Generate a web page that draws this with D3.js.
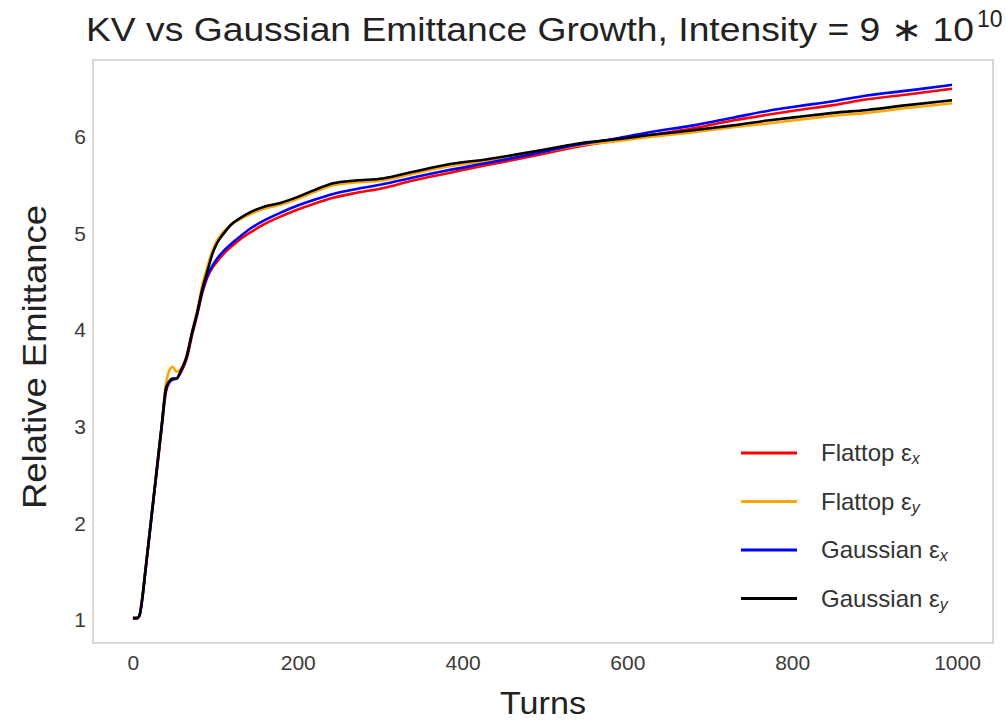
<!DOCTYPE html>
<html>
<head>
<meta charset="utf-8">
<script src="https://cdn.jsdelivr.net/npm/d3@7"></script>
<style>
  body { margin: 0; background: #fff; }
  svg text { font-family: "Liberation Sans", Arial, sans-serif; }
</style>
</head>
<body>
<div id="chart"></div>
<script>
(function () {
  'use strict';

  // turn numbers shared by every series
  const turns = [0, 5, 8, 11, 15, 20, 25, 30, 35, 40, 44, 48, 53, 58, 65, 72, 78, 84, 90, 96,
    102, 110, 120, 130, 142, 160, 180, 200, 220, 243, 270, 303, 340, 385, 430, 466,
    500, 546, 590, 627, 680, 728, 770, 809, 850, 891, 940, 994];

  const flattopX = [1.02, 1.02, 1.05, 1.2, 1.5, 1.88, 2.26, 2.62, 3.0, 3.36, 3.46, 3.49, 3.5, 3.56, 3.7, 3.96, 4.16, 4.38, 4.54, 4.64,
    4.71, 4.79, 4.87, 4.94, 5.01, 5.1, 5.18, 5.25, 5.31, 5.37, 5.42, 5.47, 5.55, 5.63, 5.71, 5.77,
    5.83, 5.91, 5.97, 6.02, 6.09, 6.17, 6.23, 6.28, 6.33, 6.39, 6.44, 6.5];
  const flattopY = [1.02, 1.02, 1.05, 1.22, 1.52, 1.9, 2.28, 2.66, 3.04, 3.44, 3.58, 3.62, 3.57, 3.6, 3.74, 4.0, 4.21, 4.46, 4.65, 4.81,
    4.93, 5.02, 5.1, 5.15, 5.2, 5.26, 5.3, 5.36, 5.43, 5.5, 5.53, 5.55, 5.62, 5.7, 5.75, 5.8,
    5.85, 5.92, 5.96, 6.0, 6.05, 6.1, 6.14, 6.18, 6.22, 6.25, 6.3, 6.35];
  const gaussX = [1.02, 1.02, 1.05, 1.2, 1.5, 1.88, 2.26, 2.64, 3.02, 3.38, 3.46, 3.49, 3.5, 3.57, 3.72, 3.98, 4.18, 4.4, 4.56, 4.66,
    4.74, 4.82, 4.9, 4.97, 5.05, 5.14, 5.22, 5.29, 5.35, 5.41, 5.46, 5.51, 5.58, 5.66, 5.73, 5.79,
    5.85, 5.93, 5.99, 6.05, 6.12, 6.2, 6.27, 6.32, 6.37, 6.43, 6.48, 6.54];
  const gaussY = [1.02, 1.02, 1.05, 1.2, 1.5, 1.88, 2.26, 2.64, 3.02, 3.4, 3.47, 3.5, 3.5, 3.58, 3.72, 3.98, 4.18, 4.42, 4.6, 4.78,
    4.9, 5.0, 5.1, 5.16, 5.22, 5.28, 5.32, 5.38, 5.45, 5.52, 5.55, 5.57, 5.64, 5.72, 5.77, 5.82,
    5.87, 5.94, 5.98, 6.02, 6.07, 6.12, 6.17, 6.21, 6.25, 6.28, 6.33, 6.38];

  const seriesNames = ['Flattop', 'Flattop', 'Gaussian', 'Gaussian'];
  const seriesSubs = ['x', 'y', 'x', 'y'];
  const seriesValues = [flattopX, flattopY, gaussX, gaussY];
  const seriesColors = ['red', 'orange', 'blue', 'black'];

  const xTicks = [0, 200, 400, 600, 800, 1000];
  const yTicks = [1, 2, 3, 4, 5, 6];

  const W = 1006, H = 724;
  const left = 93, right = 993, top = 60, bottom = 643;

  const svg = d3.select('#chart').append('svg')
    .attr('width', W).attr('height', H);

  const x = d3.scaleLinear().domain([-48.5, 1043.7]).range([left, right]);
  const y = d3.scaleLinear().domain([0.762, 6.797]).range([bottom, top]);

  // frame
  svg.append('rect')
    .attr('x', left).attr('y', top)
    .attr('width', right - left).attr('height', bottom - top)
    .attr('fill', '#fff').attr('stroke', '#cccccc').attr('stroke-width', 1.5);

  const xAxis = svg.append('g')
    .attr('transform', `translate(0,${bottom})`)
    .call(d3.axisBottom(x).tickValues(xTicks).tickSize(0).tickPadding(12).tickFormat(d3.format('d')));
  xAxis.select('.domain').remove();
  xAxis.selectAll('text').attr('font-size', 21).attr('fill', '#3a3a3a')
    .style('font-family', '"Liberation Sans", Arial, sans-serif');

  const yAxis = svg.append('g')
    .attr('transform', `translate(${left},0)`)
    .call(d3.axisLeft(y).tickValues(yTicks).tickSize(0).tickPadding(7).tickFormat(d3.format('d')));
  yAxis.select('.domain').remove();
  yAxis.selectAll('text').attr('font-size', 21).attr('fill', '#3a3a3a')
    .style('font-family', '"Liberation Sans", Arial, sans-serif');

  const line = d3.line()
    .x((d, i) => x(turns[i]))
    .y((d) => y(d))
    .curve(d3.curveMonotoneX);

  const plot = svg.append('g');
  seriesValues.forEach((vals, k) => {
    plot.append('path')
      .datum(vals)
      .attr('fill', 'none')
      .attr('stroke', seriesColors[k])
      .attr('stroke-width', 2.6)
      .attr('stroke-linejoin', 'round')
      .attr('d', line);
  });

  // title
  svg.append('text')
    .attr('x', 86).attr('y', 41)
    .attr('font-size', 33).attr('fill', '#222')
    .attr('textLength', 888).attr('lengthAdjust', 'spacingAndGlyphs')
    .text('KV vs Gaussian Emittance Growth, Intensity = 9 \u2217 10');
  svg.append('text')
    .attr('x', 977).attr('y', 27)
    .attr('font-size', 23).attr('fill', '#222')
    .text('10');

  svg.append('text')
    .attr('x', (left + right) / 2).attr('y', 714)
    .attr('text-anchor', 'middle').attr('font-size', 32).attr('fill', '#222')
    .attr('textLength', 86).attr('lengthAdjust', 'spacingAndGlyphs')
    .text('Turns');

  svg.append('text')
    .attr('transform', `translate(46,357) rotate(-90)`)
    .attr('text-anchor', 'middle').attr('font-size', 34).attr('fill', '#222')
    .attr('textLength', 304).attr('lengthAdjust', 'spacingAndGlyphs')
    .text('Relative Emittance');

  // legend
  const legend = svg.append('g');
  seriesColors.forEach((c, k) => {
    const ly = 453 + k * 48.5;
    legend.append('line')
      .attr('x1', 741).attr('x2', 797).attr('y1', ly).attr('y2', ly)
      .attr('stroke', c).attr('stroke-width', 2.8);
    const t = legend.append('text')
      .attr('x', 821).attr('y', ly + 8)
      .attr('font-size', 24).attr('fill', '#333');
    t.append('tspan').text(seriesNames[k] + ' \u03b5');
    t.append('tspan').attr('font-size', 16).attr('dy', 3).attr('font-style', 'italic').text(seriesSubs[k]);
  });
})();
</script>
</body>
</html>
